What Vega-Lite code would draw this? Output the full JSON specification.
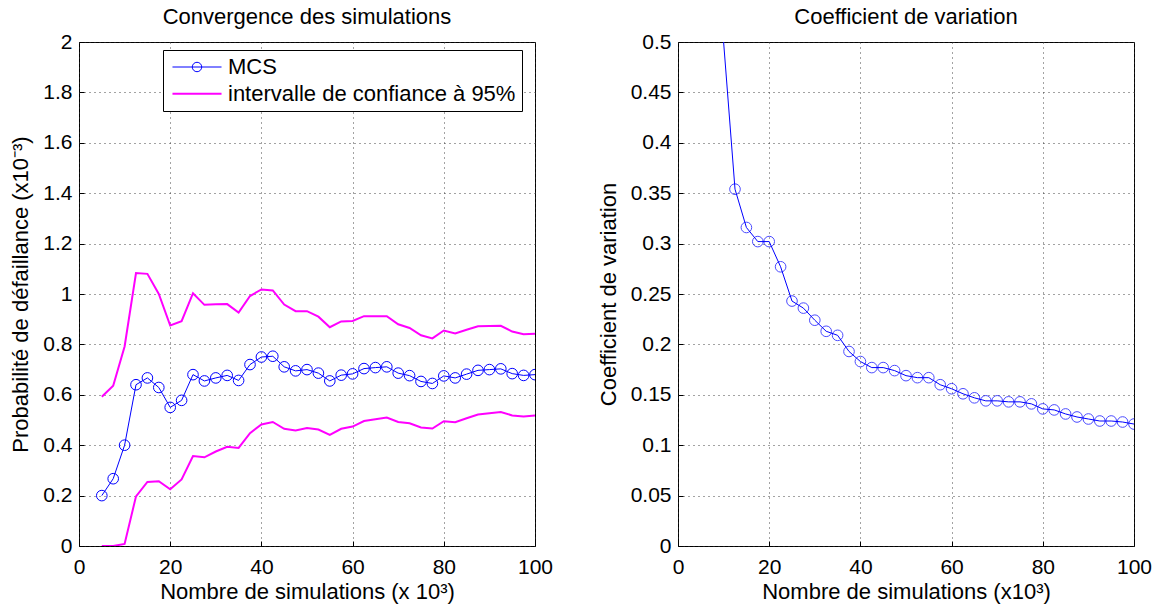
{
  "$schema": "https://vega.github.io/schema/vega-lite/v6.json",
  "background": "white",
  "padding": {"left": 9, "top": 5, "right": 5, "bottom": 5},
  "bounds": "flush",
  "spacing": 143,
  "datasets": {
    "sim": [
      {"x": 5, "mcs": 0.2, "upper": 0.592, "lower": 0, "cv": 1.0},
      {"x": 7.5, "mcs": 0.267, "upper": 0.636, "lower": 0, "cv": 0.707},
      {"x": 10, "mcs": 0.4, "upper": 0.792, "lower": 0.008, "cv": 0.5},
      {"x": 12.5, "mcs": 0.64, "upper": 1.083, "lower": 0.197, "cv": 0.354},
      {"x": 15, "mcs": 0.667, "upper": 1.08, "lower": 0.254, "cv": 0.316},
      {"x": 17.5, "mcs": 0.629, "upper": 1.0, "lower": 0.257, "cv": 0.302},
      {"x": 20, "mcs": 0.55, "upper": 0.875, "lower": 0.225, "cv": 0.302},
      {"x": 22.5, "mcs": 0.578, "upper": 0.892, "lower": 0.264, "cv": 0.277},
      {"x": 25, "mcs": 0.68, "upper": 1.003, "lower": 0.357, "cv": 0.243},
      {"x": 27.5, "mcs": 0.655, "upper": 0.957, "lower": 0.352, "cv": 0.236},
      {"x": 30, "mcs": 0.667, "upper": 0.959, "lower": 0.375, "cv": 0.224},
      {"x": 32.5, "mcs": 0.677, "upper": 0.96, "lower": 0.394, "cv": 0.213},
      {"x": 35, "mcs": 0.657, "upper": 0.926, "lower": 0.389, "cv": 0.209},
      {"x": 37.5, "mcs": 0.72, "upper": 0.992, "lower": 0.448, "cv": 0.193},
      {"x": 40, "mcs": 0.75, "upper": 1.018, "lower": 0.482, "cv": 0.183},
      {"x": 42.5, "mcs": 0.753, "upper": 1.014, "lower": 0.492, "cv": 0.177},
      {"x": 45, "mcs": 0.711, "upper": 0.958, "lower": 0.465, "cv": 0.177},
      {"x": 47.5, "mcs": 0.695, "upper": 0.932, "lower": 0.458, "cv": 0.174},
      {"x": 50, "mcs": 0.7, "upper": 0.932, "lower": 0.468, "cv": 0.169},
      {"x": 52.5, "mcs": 0.686, "upper": 0.91, "lower": 0.462, "cv": 0.167},
      {"x": 55, "mcs": 0.655, "upper": 0.868, "lower": 0.441, "cv": 0.167},
      {"x": 57.5, "mcs": 0.678, "upper": 0.891, "lower": 0.465, "cv": 0.16},
      {"x": 60, "mcs": 0.683, "upper": 0.893, "lower": 0.474, "cv": 0.156},
      {"x": 62.5, "mcs": 0.704, "upper": 0.912, "lower": 0.496, "cv": 0.151},
      {"x": 65, "mcs": 0.708, "upper": 0.912, "lower": 0.503, "cv": 0.147},
      {"x": 67.5, "mcs": 0.711, "upper": 0.912, "lower": 0.51, "cv": 0.144},
      {"x": 70, "mcs": 0.686, "upper": 0.88, "lower": 0.492, "cv": 0.144},
      {"x": 72.5, "mcs": 0.676, "upper": 0.865, "lower": 0.487, "cv": 0.143},
      {"x": 75, "mcs": 0.653, "upper": 0.836, "lower": 0.47, "cv": 0.143},
      {"x": 77.5, "mcs": 0.645, "upper": 0.824, "lower": 0.466, "cv": 0.141},
      {"x": 80, "mcs": 0.675, "upper": 0.855, "lower": 0.495, "cv": 0.136},
      {"x": 82.5, "mcs": 0.667, "upper": 0.843, "lower": 0.491, "cv": 0.135},
      {"x": 85, "mcs": 0.682, "upper": 0.858, "lower": 0.507, "cv": 0.131},
      {"x": 87.5, "mcs": 0.697, "upper": 0.872, "lower": 0.522, "cv": 0.128},
      {"x": 90, "mcs": 0.7, "upper": 0.873, "lower": 0.527, "cv": 0.126},
      {"x": 92.5, "mcs": 0.703, "upper": 0.874, "lower": 0.532, "cv": 0.124},
      {"x": 95, "mcs": 0.684, "upper": 0.851, "lower": 0.518, "cv": 0.124},
      {"x": 97.5, "mcs": 0.677, "upper": 0.84, "lower": 0.514, "cv": 0.123},
      {"x": 100, "mcs": 0.68, "upper": 0.842, "lower": 0.518, "cv": 0.121}
    ]
  },
  "config": {
    "font": "Liberation Sans",
    "view": {"stroke": "black", "strokeWidth": 1},
    "axis": {
      "labelFont": "Liberation Sans",
      "titleFont": "Liberation Sans",
      "labelFontSize": 21,
      "titleFontSize": 22,
      "labelColor": "black",
      "titleColor": "black",
      "titleFontWeight": "normal",
      "domain": false,
      "ticks": true,
      "tickSize": -5,
      "tickColor": "black",
      "tickWidth": 1,
      "grid": true,
      "gridColor": "#333333",
      "gridDash": [1, 4],
      "gridWidth": 1,
      "gridOpacity": 0.9,
      "labelFlush": false
    },
    "title": {"font": "Liberation Sans", "fontSize": 22, "fontWeight": "normal", "color": "black", "offset": 2}
  },
  "hconcat": [
    {
      "width": 456,
      "height": 504,
      "title": "Convergence des simulations",
      "data": {"name": "sim"},
      "encoding": {
        "x": {
          "field": "x", "type": "quantitative",
          "scale": {"domain": [0, 100], "nice": false},
          "axis": {"values": [0, 20, 40, 60, 80, 100], "title": "Nombre de simulations (x 10³)", "labelPadding": 15, "titlePadding": 4}
        }
      },
      "layer": [
        {
          "mark": {"type": "line", "strokeWidth": 2, "clip": true},
          "encoding": {
            "y": {
              "field": "upper", "type": "quantitative",
              "scale": {"domain": [0, 2], "nice": false},
              "axis": {"values": [0, 0.2, 0.4, 0.6, 0.8, 1, 1.2, 1.4, 1.6, 1.8, 2], "format": "~g", "title": "Probabilité de défaillance (x10⁻³)", "labelPadding": 12, "titlePadding": 10}
            },
            "color": {
              "datum": "intervalle de confiance à 95%", "type": "nominal",
              "scale": {"domain": ["MCS", "intervalle de confiance à 95%"], "range": ["#0000ff", "#ff00ff"]},
              "legend": {
                "orient": "none", "legendX": 84, "legendY": 8, "title": null,
                "strokeColor": "black", "fillColor": "white", "padding": 6, "cornerRadius": 0,
                "labelFont": "Liberation Sans", "labelFontSize": 22, "labelColor": "black", "labelBaseline": "middle", "labelLimit": 600,
                "symbolSize": 484, "symbolOffset": 17, "labelOffset": 20, "rowPadding": 4.7, "symbolStrokeWidth": 1,
                "encode": {
                  "symbols": {
                    "update": {
                      "shape": {"signal": "datum.value === 'MCS' ? 'M-2.23,0L2.23,0M0.43,0A0.43,0.43,0,1,1,-0.43,0A0.43,0.43,0,1,1,0.43,0' : 'M-2.23,0L2.23,0'"},
                      "strokeWidth": {"signal": "datum.value === 'MCS' ? 1 : 2"},
                      "fill": {"value": "transparent"}
                    }
                  }
                }
              }
            }
          }
        },
        {
          "mark": {"type": "line", "strokeWidth": 2, "clip": true},
          "encoding": {
            "y": {
              "field": "lower", "type": "quantitative",
              "scale": {"domain": [0, 2], "nice": false},
              "axis": {"values": [0, 0.2, 0.4, 0.6, 0.8, 1, 1.2, 1.4, 1.6, 1.8, 2], "format": "~g", "title": "Probabilité de défaillance (x10⁻³)", "labelPadding": 12, "titlePadding": 10}
            },
            "color": {"datum": "intervalle de confiance à 95%", "type": "nominal"}
          }
        },
        {
          "mark": {"type": "line", "strokeWidth": 1, "clip": true, "point": {"filled": false, "size": 113, "strokeWidth": 1}},
          "encoding": {
            "y": {
              "field": "mcs", "type": "quantitative",
              "scale": {"domain": [0, 2], "nice": false},
              "axis": {"values": [0, 0.2, 0.4, 0.6, 0.8, 1, 1.2, 1.4, 1.6, 1.8, 2], "format": "~g", "title": "Probabilité de défaillance (x10⁻³)", "labelPadding": 12, "titlePadding": 10}
            },
            "color": {"datum": "MCS", "type": "nominal"}
          }
        }
      ]
    },
    {
      "width": 456,
      "height": 504,
      "title": "Coefficient de variation",
      "data": {"name": "sim"},
      "encoding": {
        "x": {
          "field": "x", "type": "quantitative",
          "scale": {"domain": [0, 100], "nice": false},
          "axis": {"values": [0, 20, 40, 60, 80, 100], "title": "Nombre de simulations (x10³)", "labelPadding": 15, "titlePadding": 4}
        },
        "y": {
          "field": "cv", "type": "quantitative",
          "scale": {"domain": [0, 0.5], "nice": false},
          "axis": {"values": [0, 0.05, 0.1, 0.15, 0.2, 0.25, 0.3, 0.35, 0.4, 0.45, 0.5], "format": "~g", "title": "Coefficient de variation", "labelPadding": 12, "titlePadding": 10}
        }
      },
      "layer": [
        {"mark": {"type": "line", "color": "#0000ff", "strokeWidth": 1, "clip": true}},
        {
          "transform": [{"filter": "datum.x >= 12.5"}],
          "mark": {"type": "point", "color": "#0000ff", "filled": false, "size": 113, "strokeWidth": 1, "clip": true}
        }
      ]
    }
  ]
}
